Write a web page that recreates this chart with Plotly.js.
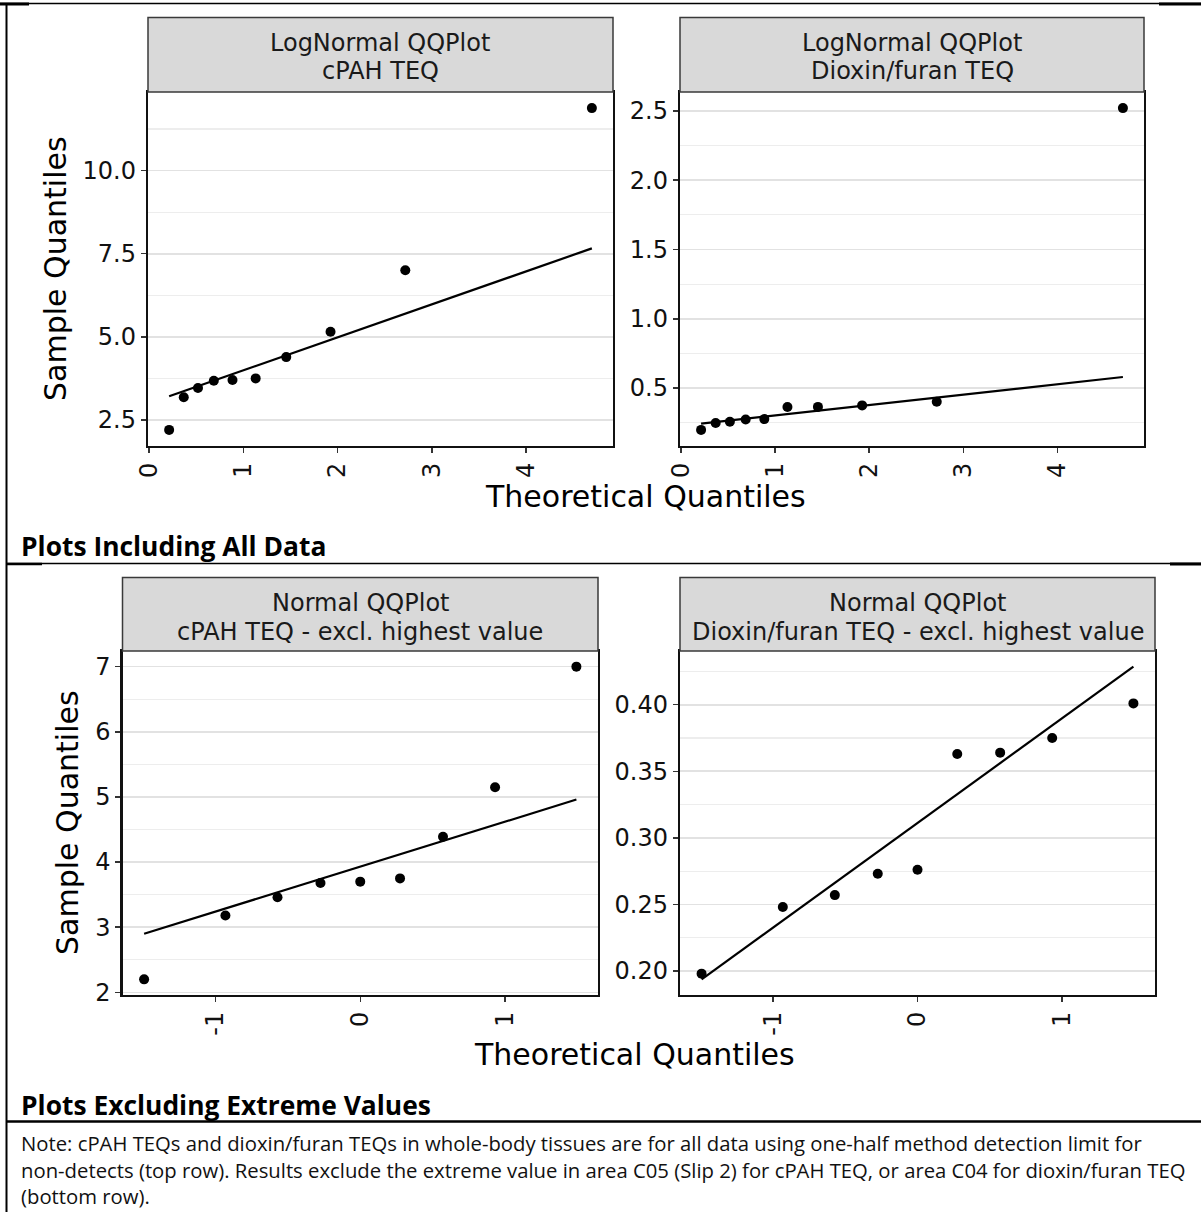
<!DOCTYPE html>
<html>
<head>
<meta charset="utf-8">
<script src="https://cdn.plot.ly/plotly-3.0.1.min.js"></script>
<style>
  html, body { margin: 0; padding: 0; background: #ffffff; }
  #chart { width: 1201px; height: 1212px; }
</style>
</head>
<body>
<div id="chart"></div>
<script>
// ---------------- DATA ----------------
// Top row: LogNormal QQ plots (n = 10), theoretical quantiles
const lnTheo = [0.213, 0.368, 0.519, 0.687, 0.885, 1.131, 1.455, 1.925, 2.718, 4.697];
// Sample quantiles, all data
const cpahAll = [2.20, 3.18, 3.46, 3.68, 3.70, 3.75, 4.39, 5.15, 7.00, 11.88];
const dioxAll = [0.198, 0.248, 0.257, 0.273, 0.276, 0.363, 0.364, 0.375, 0.401, 2.52];
// Reference line values at first / last theoretical quantile
const cpahAllLine = [3.21, 7.66];
const dioxAllLine = [0.243, 0.580];

// Bottom row: Normal QQ plots (n = 9), theoretical quantiles
const nTheo = [-1.494, -0.932, -0.572, -0.275, 0.0, 0.275, 0.572, 0.932, 1.494];
const cpahExcl = [2.20, 3.18, 3.46, 3.68, 3.70, 3.75, 4.39, 5.15, 7.00];
const dioxExcl = [0.198, 0.248, 0.257, 0.273, 0.276, 0.363, 0.364, 0.375, 0.401];
const cpahExclLine = [2.90, 4.96];
const dioxExclLine = [0.1937, 0.4286];

// Tick labels
const xTickValsTop = [0, 1, 2, 3, 4];
const xTickTextTop = ['0', '1', '2', '3', '4'];
const xTickValsBot = [-1, 0, 1];
const xTickTextBot = ['-1', '0', '1'];

// Panel strip titles
const stripTitles = [
  ['LogNormal QQPlot', 'cPAH TEQ'],
  ['LogNormal QQPlot', 'Dioxin/furan TEQ'],
  ['Normal QQPlot', 'cPAH TEQ - excl. highest value'],
  ['Normal QQPlot', 'Dioxin/furan TEQ - excl. highest value']
];
const xTitle = 'Theoretical Quantiles';
const yTitle = 'Sample Quantiles';
const headers = ['Plots Including All Data', 'Plots Excluding Extreme Values'];
const noteLines = [
  'Note: cPAH TEQs and dioxin/furan TEQs in whole-body tissues are for all data using one-half method detection limit for',
  'non-detects (top row). Results exclude the extreme value in area C05 (Slip 2) for cPAH TEQ, or area C04 for dioxin/furan TEQ',
  '(bottom row).'
];

// ---------------- LAYOUT HELPERS ----------------
const W = 1201, H = 1212;
const FX = p => p / W;
const FY = p => 1 - p / H;
const FONT = 'DejaVu Sans, Liberation Sans, Arial, sans-serif';
const NOTEFONT = 'Open Sans, Noto Sans, sans-serif';

// panel boxes in pixels: plot area and strip top
const P = [
  { x0: 148,   x1: 613,  y0: 92,  y1: 446, s0: 17.5 },
  { x0: 680,   x1: 1144, y0: 92,  y1: 446, s0: 17.5 },
  { x0: 122.5, x1: 598,  y0: 651, y1: 995, s0: 577.5 },
  { x0: 680,   x1: 1155, y0: 651, y1: 995, s0: 577.5 }
];

function expand(arrs) {
  let lo = Infinity, hi = -Infinity;
  arrs.forEach(a => a.forEach(v => { lo = Math.min(lo, v); hi = Math.max(hi, v); }));
  const d = (hi - lo) * 0.05;
  return [lo - d, hi + d];
}

const panels = [
  { x: lnTheo, y: cpahAll,  line: cpahAllLine,  tv: xTickValsTop, tt: xTickTextTop, dtick: 2.5,  fmt: '.1f' },
  { x: lnTheo, y: dioxAll,  line: dioxAllLine,  tv: xTickValsTop, tt: xTickTextTop, dtick: 0.5,  fmt: '.1f' },
  { x: nTheo,  y: cpahExcl, line: cpahExclLine, tv: xTickValsBot, tt: xTickTextBot, dtick: 1,    fmt: 'd'   },
  { x: nTheo,  y: dioxExcl, line: dioxExclLine, tv: xTickValsBot, tt: xTickTextBot, dtick: 0.05, fmt: '.2f' }
];

const traces = [];
const layout = {
  width: W, height: H,
  margin: { l: 0, r: 0, t: 0, b: 0 },
  paper_bgcolor: '#ffffff',
  plot_bgcolor: '#ffffff',
  showlegend: false,
  font: { family: FONT, color: '#111111' },
  shapes: [],
  annotations: []
};

panels.forEach((pn, i) => {
  const sfx = i === 0 ? '' : String(i + 1);
  const box = P[i];
  const xEnds = [pn.x[0], pn.x[pn.x.length - 1]];
  const xr = expand([pn.x, xEnds]);
  const yr = expand([pn.y, pn.line]);

  traces.push({
    type: 'scatter', mode: 'lines', x: xEnds, y: pn.line,
    xaxis: 'x' + sfx, yaxis: 'y' + sfx,
    line: { color: '#000000', width: 2.2 }, hoverinfo: 'skip'
  });
  traces.push({
    type: 'scatter', mode: 'markers', x: pn.x, y: pn.y,
    xaxis: 'x' + sfx, yaxis: 'y' + sfx,
    marker: { color: '#000000', size: 10, line: { width: 0 } }
  });

  layout['xaxis' + sfx] = {
    domain: [FX(box.x0), FX(box.x1)],
    anchor: 'y' + sfx,
    range: xr,
    tickmode: 'array', tickvals: pn.tv, ticktext: pn.tt,
    tickangle: -90,
    ticks: 'outside', ticklen: 5, tickwidth: 1.5, tickcolor: '#333333',
    showline: true, linecolor: '#111111', linewidth: 2.2, mirror: true,
    showgrid: false, zeroline: false, fixedrange: true,
    tickfont: { family: FONT, size: 24, color: '#111111' }
  };
  layout['yaxis' + sfx] = {
    domain: [FY(box.y1), FY(box.y0)],
    anchor: 'x' + sfx,
    range: yr,
    tick0: 0, dtick: pn.dtick, tickformat: pn.fmt,
    ticks: 'outside', ticklen: 5, tickwidth: 1.5, tickcolor: '#333333',
    showline: true, linecolor: '#111111', linewidth: 2.2, mirror: true,
    showgrid: true, gridcolor: '#e2e2e2', gridwidth: 1.6,
    minor: { tick0: 0, dtick: pn.dtick / 2, showgrid: true, gridcolor: '#ededed', gridwidth: 1.2, ticks: '' },
    zeroline: false, fixedrange: true,
    tickfont: { family: FONT, size: 24, color: '#111111' }
  };

  // strip
  layout.shapes.push({
    type: 'rect', xref: 'paper', yref: 'paper',
    x0: FX(box.x0), x1: FX(box.x1), y0: FY(box.y0), y1: FY(box.s0),
    fillcolor: '#d9d9d9', line: { color: '#3a3a3a', width: 1.5 }, layer: 'above'
  });
  const cx = FX((box.x0 + box.x1) / 2);
  const l1 = box.s0 + 25.5, l2 = box.s0 + 54;
  layout.annotations.push({
    xref: 'paper', yref: 'paper', x: cx, y: FY(l1), xanchor: 'center', yanchor: 'middle',
    text: stripTitles[i][0], showarrow: false, font: { family: FONT, size: 24, color: '#1a1a1a' }
  });
  layout.annotations.push({
    xref: 'paper', yref: 'paper', x: cx, y: FY(l2), xanchor: 'center', yanchor: 'middle',
    text: stripTitles[i][1], showarrow: false, font: { family: FONT, size: 24, color: '#1a1a1a' }
  });
});

// axis titles
const titleFont = { family: FONT, size: 30, color: '#000000' };
[[55, (P[0].y0 + P[0].y1) / 2], [67, (P[2].y0 + P[2].y1) / 2]].forEach(([x, y]) => {
  layout.annotations.push({ xref: 'paper', yref: 'paper', x: FX(x), y: FY(y), xanchor: 'center', yanchor: 'middle',
    text: yTitle, textangle: -90, showarrow: false, font: titleFont });
});
[[645, 496], [634, 1054]].forEach(([x, y]) => {
  layout.annotations.push({ xref: 'paper', yref: 'paper', x: FX(x), y: FY(y), xanchor: 'center', yanchor: 'middle',
    text: xTitle, showarrow: false, font: titleFont });
});

// section headers
[[546, headers[0]], [1104.5, headers[1]]].forEach(([y, t]) => {
  layout.annotations.push({ xref: 'paper', yref: 'paper', x: FX(19), y: FY(y), xanchor: 'left', yanchor: 'middle',
    text: '<b>' + t + '</b>', showarrow: false, font: { family: NOTEFONT, size: 26.4, color: '#000000' } });
});

// note lines
[1143, 1170, 1196].forEach((y, k) => {
  layout.annotations.push({ xref: 'paper', yref: 'paper', x: FX(19), y: FY(y), xanchor: 'left', yanchor: 'middle',
    text: noteLines[k], showarrow: false, font: { family: NOTEFONT, size: 20.3, color: '#111111' } });
});

// table rules
const rule = (x0, y0, x1, y1, w) => ({ type: 'line', xref: 'paper', yref: 'paper',
  x0: FX(x0), y0: FY(y0), x1: FX(x1), y1: FY(y1), line: { color: '#000000', width: w }, layer: 'above' });
layout.shapes.push(rule(0, 3.5, 1201, 3.5, 1.5));
layout.shapes.push(rule(0, 4, 29, 4, 3));
layout.shapes.push(rule(1159, 4, 1201, 4, 3));
layout.shapes.push(rule(6.5, 3, 6.5, 1212, 2));
layout.shapes.push(rule(6, 563.5, 1201, 563.5, 1.5));
layout.shapes.push(rule(6, 564, 42, 564, 2.5));
layout.shapes.push(rule(1170, 564, 1201, 564, 3));
layout.shapes.push(rule(6, 1121.5, 1201, 1121.5, 2.5));

Plotly.newPlot('chart', traces, layout, { staticPlot: true, displayModeBar: false });
</script>
</body>
</html>
